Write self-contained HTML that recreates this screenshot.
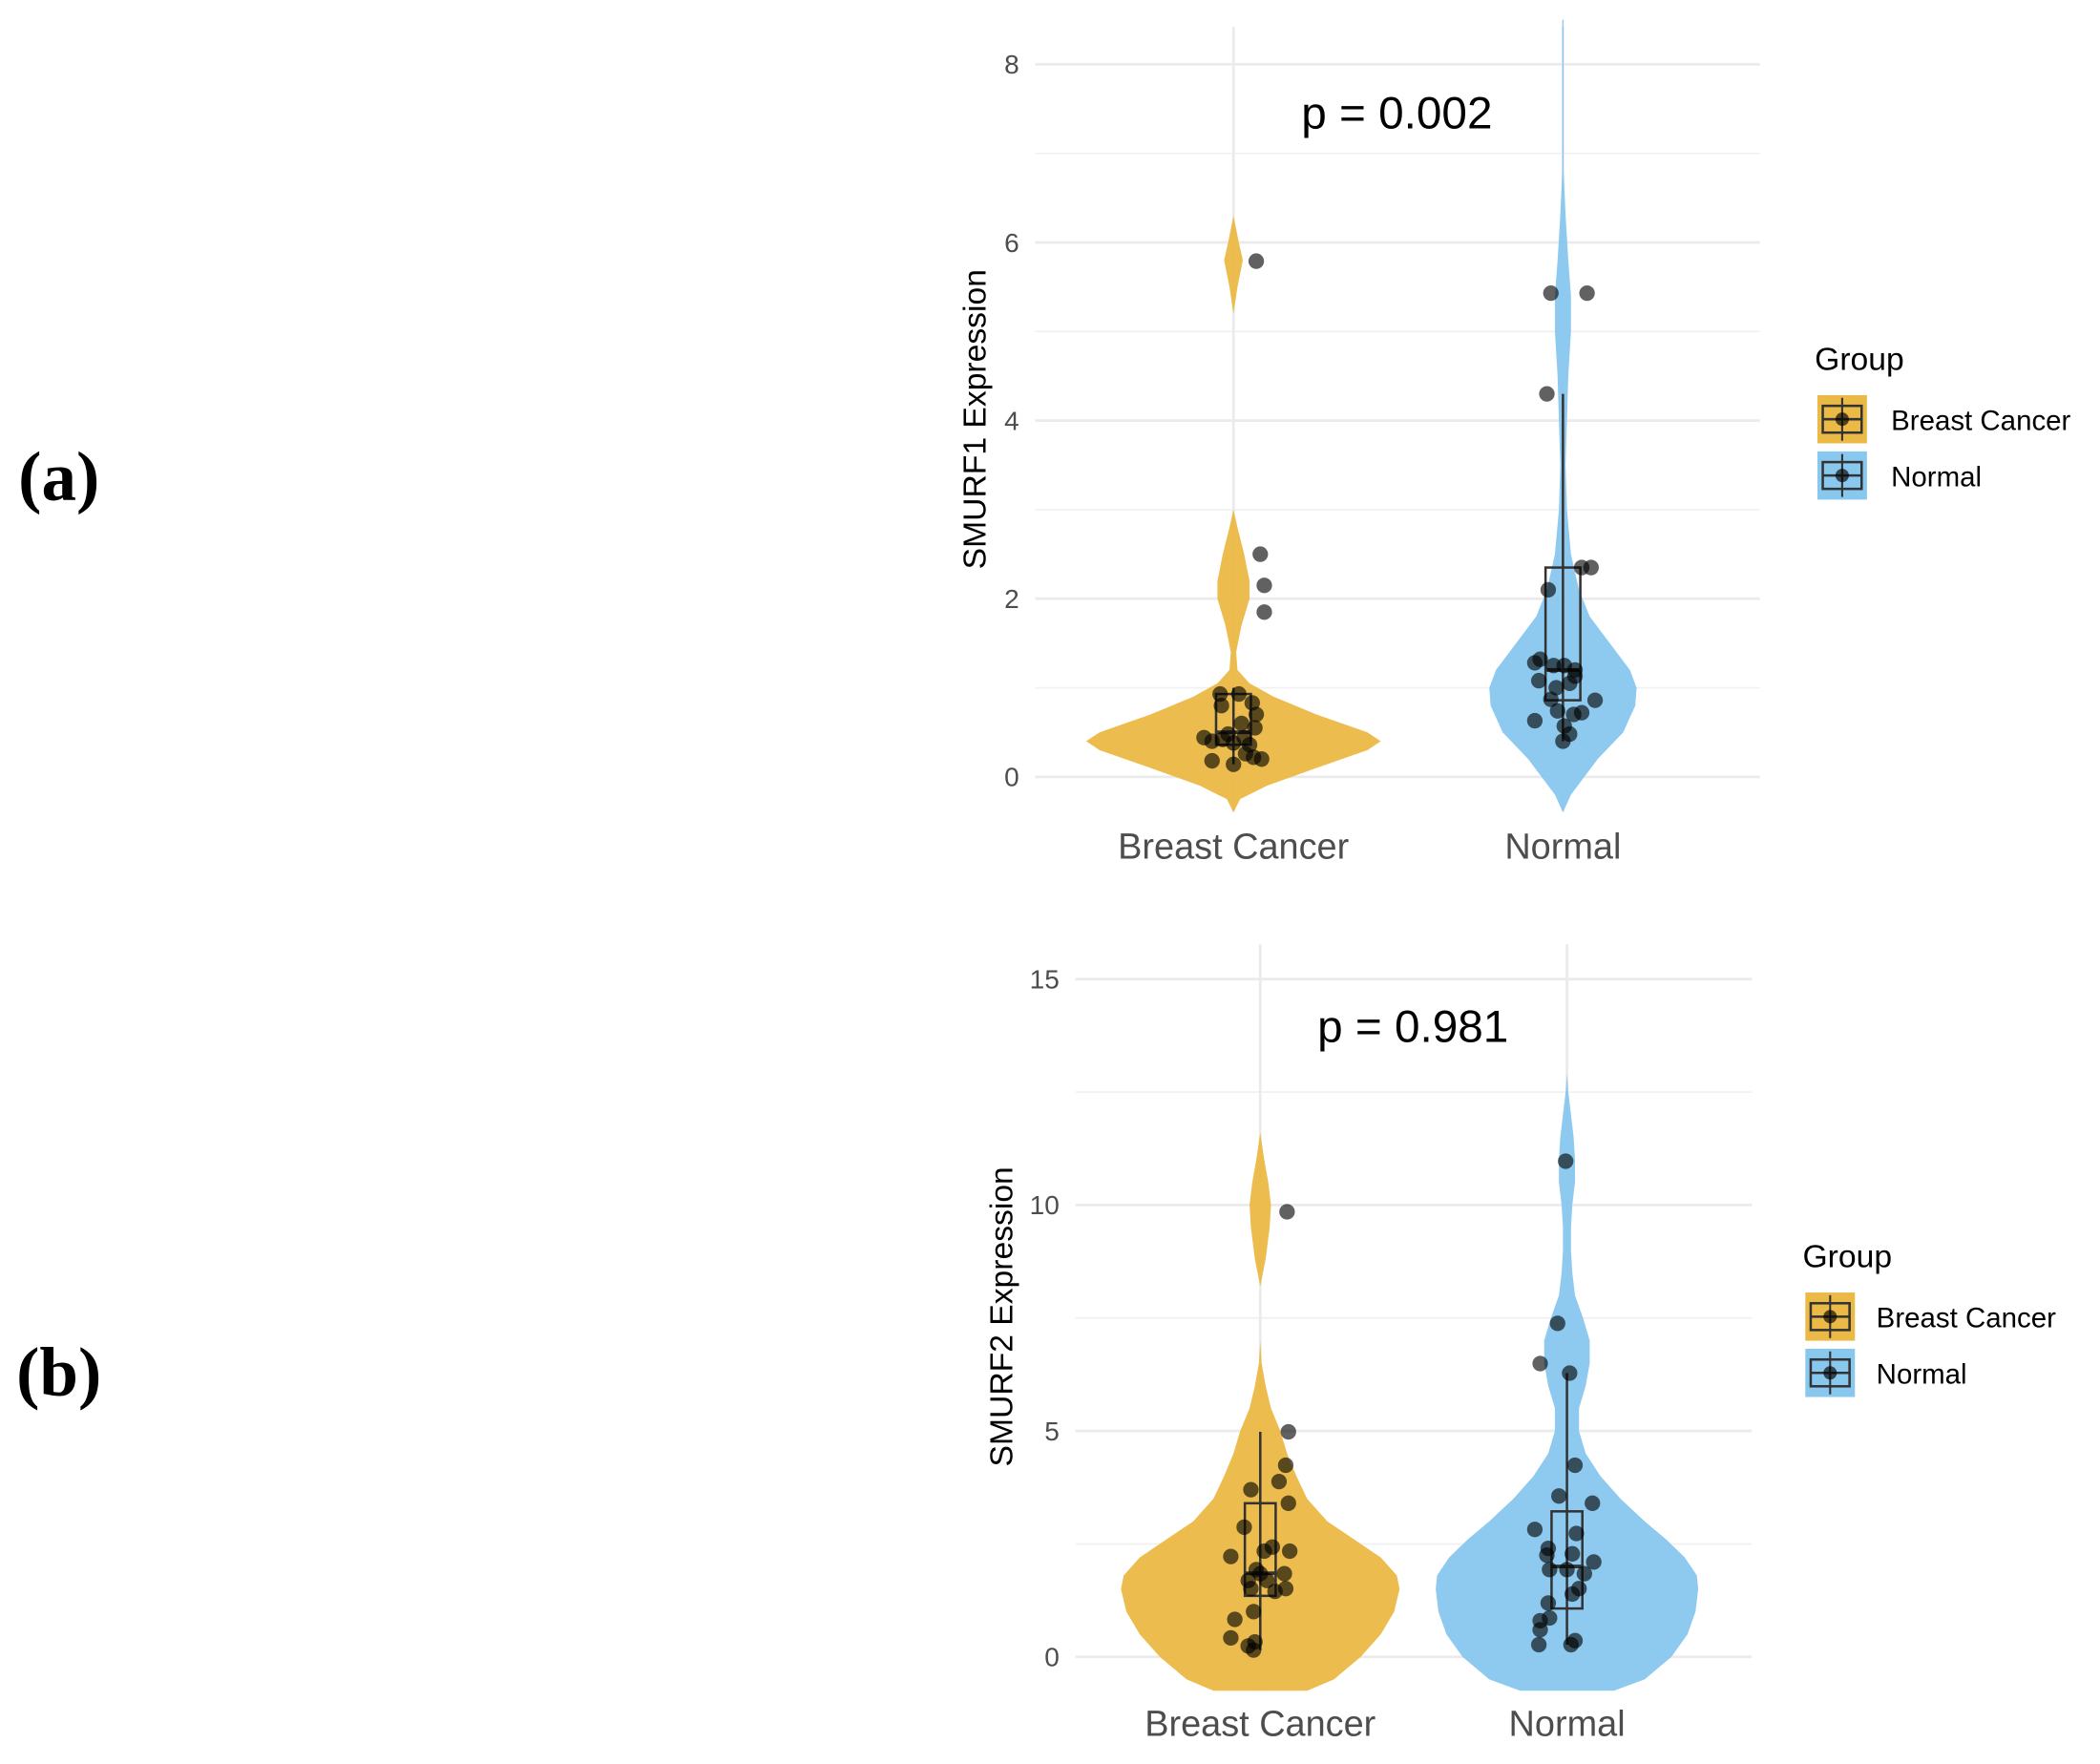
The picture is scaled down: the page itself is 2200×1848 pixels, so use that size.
<!DOCTYPE html>
<html><head><meta charset="utf-8">
<style>
html,body{margin:0;padding:0;background:#fff;}
svg{display:block;}
text{font-family:"Liberation Sans",sans-serif;}
</style></head>
<body>
<svg id="fig" width="2200" height="1848" viewBox="0 0 1568 1317" preserveAspectRatio="none" xmlns="http://www.w3.org/2000/svg">
<text x="44" y="373" font-size="52" text-anchor="middle" style="font-family:'Liberation Serif',serif;font-weight:bold">(a)</text>
<text x="44" y="1042" font-size="52" text-anchor="middle" style="font-family:'Liberation Serif',serif;font-weight:bold">(b)</text>
</svg>
<script>
const categories = ["Breast Cancer","Normal"];
const colors = ["#EBB945","#88C7EE"];

// Panel A data
const aTicks = [0,2,4,6,8];
const aMinor = [1,3,5,7];
const aViolinBC = [[-0.4,0],[-0.25,5],[-0.1,25],[0.1,62],[0.3,100],[0.4,110],[0.5,100],[0.7,62],[0.9,30],[1.05,12],[1.2,3],[1.4,2],[1.7,6],[2.0,12],[2.2,12],[2.5,8],[2.8,3],[3.0,0]];
const aViolinBC2 = [[5.2,0],[5.5,3],[5.8,7],[6.0,4],[6.3,0]];
const aViolinN = [[-0.4,0],[-0.2,6],[0.2,26],[0.5,45],[0.8,54],[1.0,55],[1.2,50],[1.5,35],[1.8,20],[2.1,12],[2.5,6],[3.0,3],[3.5,2],[4.0,3],[4.5,4],[5.0,6],[5.4,6],[5.8,4],[6.3,2],[6.8,0.5],[8.5,0.5]];
const aPointsBC = [5.79,2.5,2.15,1.85,0.93,0.93,0.8,0.83,0.7,0.6,0.44,0.4,0.42,0.48,0.44,0.55,0.18,0.14,0.26,0.22,0.2,0.38,0.36];
const aJitterBC = [17,20,23,23,-10,4,-9,14,17,6,-22,-16,-8,-4,8,16,-16,0,9,15,21,0,12];
const aPointsN = [5.43,5.43,4.3,2.1,2.35,2.35,1.28,1.32,1.25,1.25,1.2,1.08,1.0,1.05,1.13,0.87,0.86,0.63,0.72,0.7,0.57,0.48,0.4,0.74];
const aJitterN = [-9,18,-12,-11,14,21,-21,-17,-7,1,9,-18,-5,5,9,-9,24,-21,14,8,1,5,0,-4];
const aBoxBC = [0.14,0.36,0.5,0.93,1.0];
const aBoxN = [0.4,0.86,1.2,2.35,4.3];

// Panel B data
const bTicks = [0,5,10,15];
const bMinor = [2.5,7.5,12.5];
const bViolinBC = [[-0.75,35],[-0.5,55],[0,75],[0.5,90],[1,100],[1.5,104],[1.8,102],[2.2,90],[2.6,70],[3,50],[3.5,35],[4,27],[4.5,20],[5,15],[5.5,8],[6,4],[6.5,1],[7,0]];
const bViolinBC2 = [[8.2,0],[8.8,4],[9.5,7],[10,8],[10.5,6],[11,3],[11.6,0]];
const bViolinN = [[-0.75,35],[-0.5,58],[0,78],[0.5,90],[1,96],[1.5,98],[1.8,97],[2.2,88],[2.6,74],[3,58],[3.5,40],[4,25],[4.5,14],[5,9],[5.5,9],[6,14],[6.5,17],[7,17],[7.5,12],[8,6],[8.5,4],[9,3],[9.5,3],[10,4],[10.5,6],[11,6],[11.5,5],[12,3],[12.5,1],[12.9,0]];
const bPointsBC = [9.85,4.98,4.24,3.88,3.7,3.4,2.87,2.43,2.34,2.34,2.22,1.93,1.84,1.84,1.69,1.69,1.51,1.51,1.45,1.0,0.83,0.42,0.33,0.24,0.15];
const bJitterBC = [20,21,19,14,-7,21,-12,9,3,22,-22,-3,0,18,-9,5,-7,19,11,-5,-19,-22,-4,-9,-5];
const bPointsN = [10.97,7.38,6.49,6.28,4.24,3.56,3.4,2.82,2.73,2.4,2.25,2.28,2.1,1.93,1.93,1.84,1.51,1.39,1.19,0.8,0.86,0.6,0.27,0.36,0.27];
const bJitterN = [-1,-7,-20,2,6,-6,19,-24,7,-14,-15,4,20,-13,0,13,9,4,-14,-20,-13,-20,-21,6,3];
const bBoxBC = [0.15,1.35,1.85,3.4,4.98];
const bBoxN = [0.27,1.07,2.0,3.22,6.28];

const NS="http://www.w3.org/2000/svg";
const svg=document.getElementById('fig');
function el(tag,attrs,parent){const e=document.createElementNS(NS,tag);for(const k in attrs)e.setAttribute(k,attrs[k]);(parent||svg).appendChild(e);return e;}

function drawPanel(p){
  const g=el('g',{});
  
  
  const y=v=>p.y0-(v-p.vmin)*(p.y0-p.y1)/(p.vmax-p.vmin);
  p.minor.forEach(v=>{const l=el('line',{x1:p.xl,x2:p.xr,y1:y(v),y2:y(v),stroke:'#f0f0f0','stroke-width':1.2},g);
    
    });
  p.ticks.forEach(v=>{const l=el('line',{x1:p.xl,x2:p.xr,y1:y(v),y2:y(v),stroke:'#ebebeb','stroke-width':2},g);
    
    
    const t=el('text',{x:p.xl-12,y:y(v)+7,'text-anchor':'end','font-size':20,fill:'#4d4d4d'},g);t.textContent=v;
    
    });
  p.cx.forEach((cx,i)=>{const l=el('line',{x1:cx,x2:cx,y1:p.top,y2:p.bottom,stroke:'#ebebeb','stroke-width':2},g);
    
    
    const t=el('text',{x:cx,y:p.xlabY,'text-anchor':'middle','font-size':27,fill:'#4d4d4d'},g);t.textContent=categories[i];
    
    });
  function violin(prof,cx,col){
    let pts=prof.map(d=>[cx+d[1],y(d[0])]);
    let back=prof.slice().reverse().map(d=>[cx-d[1],y(d[0])]);
    const v=el('polygon',{points:pts.concat(back).map(q=>q.join(',')).join(' '),fill:col,'fill-opacity':0.95},g);
    
    
  }
  p.violins.forEach(v=>v.profs.forEach(pr=>violin(pr,p.cx[v.i],colors[v.i])));
  p.boxes.forEach((b,i)=>{const cx=p.cx[i],w=p.boxW;
    const wl=el('line',{x1:cx,x2:cx,y1:y(b[0]),y2:y(b[4]),stroke:'#333','stroke-width':1.8},g);
    
    
    const r=el('rect',{x:cx-w/2,y:y(b[3]),width:w,height:y(b[1])-y(b[3]),fill:'none',stroke:'#333','stroke-width':1.8},g);
    
    
    const m=el('line',{x1:cx-w/2,x2:cx+w/2,y1:y(b[2]),y2:y(b[2]),stroke:'#333','stroke-width':2.8},g);
    
    });
  p.points.forEach((arr,i)=>arr.forEach((v,j)=>{
    const c=el('circle',{cx:p.cx[i]+p.jit[i][j],cy:y(v),r:5.8,fill:'#000','fill-opacity':0.62},g);
    
    }));
  const pt=el('text',{x:p.px,y:p.py,'text-anchor':'middle','font-size':34,fill:'#000'},g);pt.textContent=p.pText;
  
  
  const yt=el('text',{x:0,y:0,'text-anchor':'middle','font-size':24,fill:'#000',transform:`translate(${p.ytx},${p.yty}) rotate(-90)`},g);yt.textContent=p.yTitle;
  
  
  const lt=el('text',{x:p.lx-2,y:p.ly,'font-size':24,fill:'#000'},g);lt.textContent='Group';
  
  
  categories.forEach((c,i)=>{const ky=p.ly+19+i*42;
    const lg=el('g',{},g);
    
    
    el('rect',{x:p.lx,y:ky,width:37,height:36,fill:colors[i]},lg);
    el('line',{x1:p.lx+18.5,x2:p.lx+18.5,y1:ky+2,y2:ky+34,stroke:'#333','stroke-width':1.5},lg);
    el('rect',{x:p.lx+4,y:ky+8,width:29,height:20,fill:'none',stroke:'#333','stroke-width':1.8},lg);
    el('line',{x1:p.lx+4,x2:p.lx+33,y1:ky+18,y2:ky+18,stroke:'#333','stroke-width':1.8},lg);
    el('circle',{cx:p.lx+18.5,cy:ky+18,r:5,fill:'#000','fill-opacity':0.65},lg);
    const t=el('text',{x:p.lx+p.lblOff,y:ky+26,'font-size':21,fill:'#000'},lg);t.textContent=c;
  });
}

drawPanel({name:'smurf1-panel',vmin:0,vmax:8,y0:580,y1:48,xl:773,xr:1314,top:20,bottom:606,cx:[921,1167],xlabY:641,
  ticks:aTicks,minor:aMinor,boxW:26,
  violins:[{i:0,profs:[aViolinBC,aViolinBC2]},{i:1,profs:[aViolinN]}],
  boxes:[aBoxBC,aBoxN],points:[aPointsBC,aPointsN],jit:[aJitterBC,aJitterN],
  px:1043,py:96,pText:'p = 0.002',yTitle:'SMURF1 Expression',ytx:736,yty:313,lx:1357,ly:276,lblOff:55});
drawPanel({name:'smurf2-panel',vmin:0,vmax:15,y0:1237,y1:731,xl:803,xr:1308,top:705,bottom:1262,cx:[941,1170],xlabY:1296,
  ticks:bTicks,minor:bMinor,boxW:23,
  violins:[{i:0,profs:[bViolinBC,bViolinBC2]},{i:1,profs:[bViolinN]}],
  boxes:[bBoxBC,bBoxN],points:[bPointsBC,bPointsN],jit:[bJitterBC,bJitterN],
  px:1055,py:778,pText:'p = 0.981',yTitle:'SMURF2 Expression',ytx:756,yty:983,lx:1348,ly:946,lblOff:53});
</script>
</body></html>
